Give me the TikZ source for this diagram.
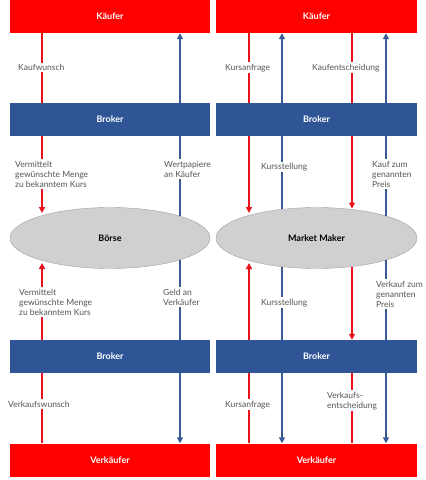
\documentclass[tikz,border=0pt]{standalone}
\usepackage{fontspec}
\setmainfont{Lato}
\usetikzlibrary{shapes.geometric,arrows.meta}
\definecolor{boxred}{HTML}{FF0000}
\definecolor{boxblue}{HTML}{2F5597}
\definecolor{arrred}{HTML}{E8141C}
\definecolor{arrblue}{HTML}{3A5A96}
\definecolor{ellfill}{HTML}{D0D0D0}
\definecolor{elldraw}{HTML}{A0A0A0}
\definecolor{labgray}{HTML}{555555}
\tikzset{
  box/.style={minimum height=33pt, inner sep=0pt, font=\bfseries\fontsize{9}{11}\selectfont, text=white},
  redbox/.style={box, fill=boxred},
  bluebox/.style={box, fill=boxblue},
  ell/.style={ellipse, draw=elldraw, fill=ellfill, minimum height=61pt, inner sep=0pt, font=\bfseries\fontsize{9}{11}\selectfont},
  lab/.style={fill=white, inner sep=1.5pt, align=left, anchor=west, font=\fontsize{8.5}{10}\selectfont, text=labgray},
  redl/.style={draw=arrred, line width=1.8pt},
  bluel/.style={draw=arrblue, line width=1.5pt},
  tip/.style={-{Triangle[length=6pt,width=6pt]}}
}
\begin{document}
\begin{tikzpicture}[x=1pt,y=-1pt]
\useasboundingbox (0,0) rectangle (426,480);
% left panel
\node[redbox, minimum width=200pt] (kL) at (110,16.5) {Käufer};
\node[bluebox, minimum width=200pt] (bL1) at (110,119.5) {Broker};
\node[ell, minimum width=200pt] (eL) at (110,238) {Börse};
\node[bluebox, minimum width=200pt] (bL2) at (110,356.5) {Broker};
\node[redbox, minimum width=200pt] (vL) at (110,460) {Verkäufer};
% right panel
\node[redbox, minimum width=201pt] (kR) at (316.5,16.5) {Käufer};
\node[bluebox, minimum width=201pt] (bR1) at (316.5,119.5) {Broker};
\node[ell, minimum width=201pt] (eR) at (316.5,238) {Market Maker};
\node[bluebox, minimum width=201pt] (bR2) at (316.5,356.5) {Broker};
\node[redbox, minimum width=201pt] (vR) at (316.5,460) {Verkäufer};
% columns
\coordinate (cA) at (42,0);
\coordinate (cB) at (180,0);
\coordinate (cC) at (249,0);
\coordinate (cD) at (282,0);
\coordinate (cE) at (352,0);
\coordinate (cF) at (386,0);
% ellipse contact points
\coordinate (eAt) at (42,213);
\coordinate (eAb) at (42,263);
\coordinate (eBt) at (180,216.2);
\coordinate (eBb) at (180,259.8);
\coordinate (eCt) at (249,213);
\coordinate (eCb) at (249,263);
\coordinate (eDt) at (282,209.4);
\coordinate (eDb) at (282,266.6);
\coordinate (eEt) at (352,208.5);
\coordinate (eEb) at (352,266.5);
\coordinate (eFt) at (386,216.1);
\coordinate (eFb) at (386,259.9);
% left connectors
\draw[redl] (kL.south -| cA) -- (bL1.north -| cA);
\draw[bluel,tip] (bL1.north -| cB) -- (kL.south -| cB);
\draw[redl,tip] (bL1.south -| cA) -- (eAt);
\draw[bluel] (eBt) -- (bL1.south -| cB);
\draw[redl,tip] (bL2.north -| cA) -- (eAb);
\draw[bluel] (eBb) -- (bL2.north -| cB);
\draw[redl] (vL.north -| cA) -- (bL2.south -| cA);
\draw[bluel,tip] (bL2.south -| cB) -- (vL.north -| cB);
% right connectors
\draw[redl] (kR.south -| cC) -- (bR1.north -| cC);
\draw[bluel,tip] (bR1.north -| cD) -- (kR.south -| cD);
\draw[redl] (kR.south -| cE) -- (bR1.north -| cE);
\draw[bluel,tip] (bR1.north -| cF) -- (kR.south -| cF);
\draw[redl,tip] (bR1.south -| cC) -- (eCt);
\draw[bluel] (eDt) -- (bR1.south -| cD);
\draw[redl,tip] (bR1.south -| cE) -- (eEt);
\draw[bluel] (eFt) -- (bR1.south -| cF);
\draw[redl,tip] (bR2.north -| cC) -- (eCb);
\draw[bluel] (eDb) -- (bR2.north -| cD);
\draw[redl,tip] (eEb) -- (bR2.north -| cE);
\draw[bluel] (eFb) -- (bR2.north -| cF);
\draw[redl] (vR.north -| cC) -- (bR2.south -| cC);
\draw[bluel,tip] (bR2.south -| cD) -- (vR.north -| cD);
\draw[redl] (vR.north -| cE) -- (bR2.south -| cE);
\draw[bluel,tip] (bR2.south -| cF) -- (vR.north -| cF);
% labels left
\node[lab] (l1) at (16.5,67.7) {Kaufwunsch};
\node[lab] (l2) at (13.5,174) {Vermittelt\\gewünschte Menge\\zu bekanntem Kurs};
\node[lab] (l3) at (162.5,169) {Wertpapiere\\an Käufer};
\node[lab] (l4) at (17.5,302) {Vermittelt\\gewünschte Menge\\zu bekanntem Kurs};
\node[lab] (l5) at (161.5,297) {Geld an\\Verkäufer};
\node[lab] (l6) at (6.5,404) {Verkaufswunsch};
% labels right
\node[lab] (r1) at (223.5,67.7) {Kursanfrage};
\node[lab] (r2) at (310.5,67.7) {Kaufentscheidung};
\node[lab] (r3) at (259.5,167) {Kursstellung};
\node[lab] (r4) at (370.5,174) {Kauf zum\\genannten\\Preis};
\node[lab] (r5) at (259.5,302.7) {Kursstellung};
\node[lab] (r6) at (374.5,294) {Verkauf zum\\genannten\\Preis};
\node[lab] (r7) at (223.5,404.7) {Kursanfrage};
\node[lab] (r8) at (325.5,400.7) {Verkaufs-\\entscheidung};
\end{tikzpicture}
\end{document}
